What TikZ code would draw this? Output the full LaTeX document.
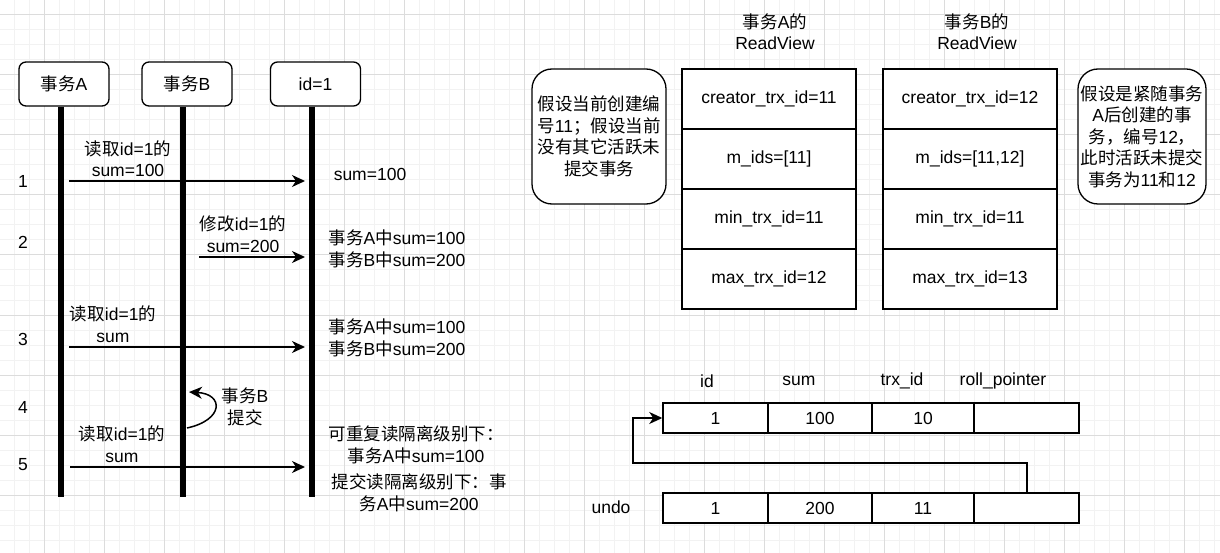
\documentclass[tikz,border=0pt]{standalone}
\usepackage{fontspec}
\setmainfont{Liberation Sans}
\newfontfamily\latinfam{Liberation Sans}
\newfontfamily\cjkfam{Noto Sans CJK SC}
\usetikzlibrary{arrows.meta}
\XeTeXinterchartokenstate=1
\newXeTeXintercharclass\cjkcls
\newcount\cjkcount
\cjkcount="3000 \loop \XeTeXcharclass\cjkcount=\cjkcls \advance\cjkcount by 1 \ifnum\cjkcount<"3040 \repeat
\cjkcount="4E00 \loop \XeTeXcharclass\cjkcount=\cjkcls \advance\cjkcount by 1 \ifnum\cjkcount<"A000 \repeat
\cjkcount="FF00 \loop \XeTeXcharclass\cjkcount=\cjkcls \advance\cjkcount by 1 \ifnum\cjkcount<"FFF0 \repeat
\XeTeXinterchartoks 0 \cjkcls = {\cjkfam}
\XeTeXinterchartoks 4095 \cjkcls = {\cjkfam}
\XeTeXinterchartoks \cjkcls 0 = {\latinfam}
\XeTeXinterchartoks \cjkcls 4095 = {\latinfam}
\definecolor{gminor}{HTML}{F2F2F2}
\definecolor{gmajor}{HTML}{DCDCDC}
\tikzset{
  hdr/.style={draw, fill=white, rounded corners=7pt, line width=1.3pt, minimum width=90pt, minimum height=44pt, inner sep=0pt},
  life/.style={line width=6pt},
  msg/.style={line width=1.5pt, -{Stealth[length=13pt,width=12pt,inset=4pt]}},
  lbl/.style={align=center, inner sep=0pt},
  cell/.style={draw, fill=white, line width=1.5pt, minimum width=174pt, minimum height=60pt, inner sep=0pt},
  notebox/.style={draw, fill=white, rounded corners=20pt, line width=1.3pt, inner sep=0pt, align=center},
  rcell/.style={draw, fill=white, line width=1.5pt, minimum height=30pt, inner sep=0pt},
}
\begin{document}
\begin{tikzpicture}[x=1pt, y=-1pt, font=\fontsize{17.5}{21.5}\selectfont]
\useasboundingbox (0,0) rectangle (1220,553);
\fill[white] (0,0) rectangle (1220,553);
% grid
\foreach \x in {14,29,...,1220} \draw[gminor, line width=1pt] (\x,0) -- (\x,553);
\foreach \y in {0,15,...,553} \draw[gminor, line width=1pt] (0,\y) -- (1220,\y);
\foreach \x in {44,104,...,1220} \draw[gmajor, line width=1pt] (\x,0) -- (\x,553);
\foreach \y in {15,75,...,553} \draw[gmajor, line width=1pt] (0,\y) -- (1220,\y);

% lifelines
\coordinate (Aend) at (61,497);
\coordinate (Bend) at (183,497);
\coordinate (Iend) at (312,497);
\node[hdr] (A) at (64,84) {事务A};
\node[hdr] (B) at (187,84) {事务B};
\node[hdr] (I) at (315.5,84) {id=1};
\draw[life] (A.south -| Aend) -- (Aend);
\draw[life] (B.south -| Bend) -- (Bend);
\draw[life] (I.south -| Iend) -- (Iend);

% step numbers
\node[lbl] (n1) at (23,181) {1};
\node[lbl] (n2) at (23,242) {2};
\node[lbl] (n3) at (23,339) {3};
\node[lbl] (n4) at (23,407) {4};
\node[lbl] (n5) at (23,465) {5};

% messages
\coordinate (m1s) at (69,181); \coordinate (m1e) at (305,181);
\coordinate (m2s) at (199,257); \coordinate (m2e) at (305,257);
\coordinate (m3s) at (69,347); \coordinate (m3e) at (305,347);
\coordinate (m5s) at (70,467); \coordinate (m5e) at (305,467);
\draw[msg] (m1s) -- (m1e);
\draw[msg] (m2s) -- (m2e);
\draw[msg] (m3s) -- (m3e);
\draw[msg] (m5s) -- (m5e);
\coordinate (l4s) at (187,428); \coordinate (l4e) at (189,392);
\draw[line width=1.5pt, -{Stealth[length=13pt,width=12pt,inset=4pt]}] (l4s) .. controls (224,420) and (224,394) .. (l4e);

\node[lbl] (t1) at (128,158.5) {读取id=1的\\sum=100};
\node[lbl] (t2) at (243,234) {修改id=1的\\sum=200};
\node[lbl] (t3) at (113,324) {读取id=1的\\sum};
\node[lbl] (t4) at (245,407) {事务B\\提交};
\node[lbl] (t5) at (122,444) {读取id=1的\\sum};

\node[lbl] (r1) at (370,174) {sum=100};
\node[lbl] (r2) at (397,249) {事务A中sum=100\\事务B中sum=200};
\node[lbl] (r3) at (397,338) {事务A中sum=100\\事务B中sum=200};
\node[lbl] (r5a) at (416,445) {可重复读隔离级别下：\\事务A中sum=100};
\node[lbl] (r5b) at (419,493) {提交读隔离级别下：事\\务A中sum=200};

% ReadView tables
\node[lbl] (ha) at (775,31.5) {事务A的\\ReadView};
\node[lbl] (hb) at (977,31.5) {事务B的\\ReadView};
\node[cell] (a1) at (769,99) {creator\_trx\_id=11};
\node[cell] (a2) at (769,159) {m\_ids=[11]};
\node[cell] (a3) at (769,219) {min\_trx\_id=11};
\node[cell] (a4) at (769,279) {max\_trx\_id=12};
\node[cell] (b1) at (970,99) {creator\_trx\_id=12};
\node[cell] (b2) at (970,159) {m\_ids=[11,12]};
\node[cell] (b3) at (970,219) {min\_trx\_id=11};
\node[cell] (b4) at (970,279) {max\_trx\_id=13};

\node[notebox, minimum width=134pt, minimum height=135pt] (na) at (599,136.5) {假设当前创建编\\号11；假设当前\\没有其它活跃未\\提交事务};
\node[notebox, minimum width=128pt, minimum height=135pt] (nb) at (1142,136.5) {假设是紧随事务\\A后创建的事\\务，编号12，\\此时活跃未提交\\事务为11和12};

% rows
\node[lbl] (c1) at (707,381) {id};
\node[lbl] (c2) at (799,381) {sum};
\node[lbl] (c3) at (902,381) {trx\_id};
\node[lbl] (c4) at (1003,381) {roll\_pointer};
\node[rcell, minimum width=105pt] (ra) at (715.5,418) {1};
\node[rcell, minimum width=104pt] (rb) at (820,418) {100};
\node[rcell, minimum width=102pt] (rc) at (923,418) {10};
\node[rcell, minimum width=105pt] (rd) at (1026.5,418) {};
\node[rcell, minimum width=105pt] (ua) at (715.5,508) {1};
\node[rcell, minimum width=104pt] (ub) at (820,508) {200};
\node[rcell, minimum width=102pt] (uc) at (923,508) {11};
\node[rcell, minimum width=105pt] (ud) at (1026.5,508) {};
\node[lbl] (undo) at (611,507) {undo};
\coordinate (k1) at (1027,463);
\coordinate (k2) at (633,463);
\coordinate (k3) at (633,418);
\draw[msg] (ud.north -| k1) -- (k1) -- (k2) -- (k3) -- (ra.west);
\end{tikzpicture}
\end{document}
